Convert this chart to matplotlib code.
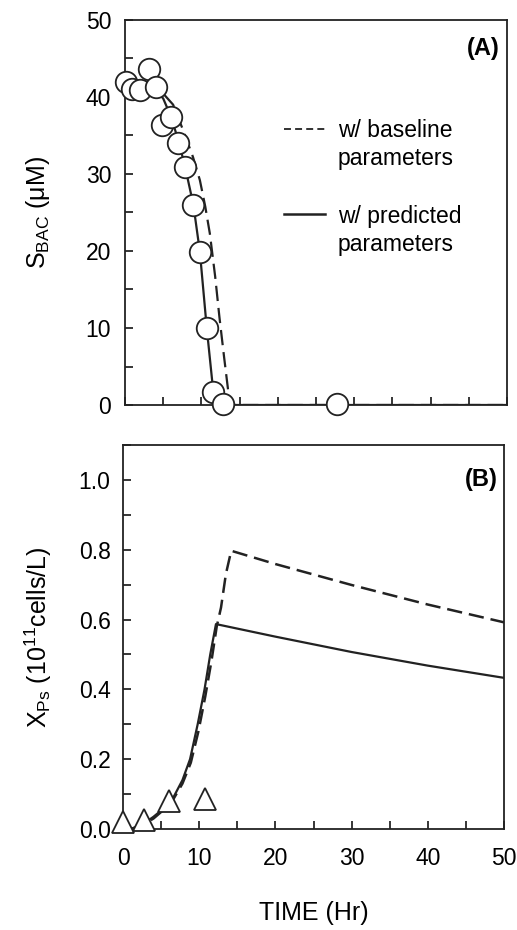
import matplotlib
matplotlib.use("Agg")
import matplotlib.pyplot as plt
from matplotlib.lines import Line2D
from matplotlib.ticker import MultipleLocator

plt.rcParams['font.family'] = ['Liberation Sans', 'DejaVu Sans']
plt.rcParams['mathtext.fontset'] = 'custom'
plt.rcParams['mathtext.rm'] = 'Liberation Sans'
plt.rcParams['mathtext.it'] = 'Liberation Sans:italic'
plt.rcParams['lines.scale_dashes'] = False

# ---------------- data ----------------
# Panel A: S_BAC (uM)
sbac_obs_t = [0.1, 0.9, 2.0, 3.1, 4.1, 4.9, 6.0, 7.0, 7.85, 8.95, 9.8, 10.7, 11.56, 12.8, 27.7]
sbac_obs = [41.9, 41.0, 40.9, 43.7, 41.3, 36.4, 37.4, 34.0, 30.9, 26.0, 19.9, 10.0, 1.7, 0.1, 0.1]

sbac_pred_t = [0, 2, 4, 5, 6, 7, 7.85, 8.95, 9.8, 10.7, 11.56, 12.0, 50]
sbac_pred = [42, 41.8, 41, 39.8, 37.5, 34.3, 31.0, 26.0, 19.9, 10.0, 1.7, 0.0, 0.0]

sbac_base_t = [0, 3, 4.5, 6.3, 7.6, 8.9, 9.8, 10.5, 11.1, 11.8, 12.35, 12.96, 13.5, 13.7, 50]
sbac_base = [42, 42, 41, 39, 35.7, 32.2, 29.2, 25.8, 22.3, 16.7, 11.5, 6.3, 1.9, 0.0, 0.0]

# Panel B: X_Ps (1e11 cells/L)
xps_obs_t = [0.0, 2.8, 6.0, 10.8]
xps_obs = [0.02, 0.025, 0.08, 0.085]

xps_pred_t = [1.0, 2.5, 4.0, 5.5, 6.6, 7.8, 8.8, 9.8, 10.7, 11.45, 12.2, 20, 30, 40, 50]
xps_pred = [0.0, 0.012, 0.035, 0.062, 0.09, 0.14, 0.2, 0.3, 0.4, 0.5, 0.587, 0.551, 0.507, 0.468, 0.433]

xps_base_t = [1.0, 2.5, 4.0, 5.5, 6.6, 7.8, 8.9, 9.9, 10.8, 11.6, 12.3, 12.86, 13.5, 14.2, 20, 30, 40, 50]
xps_base = [0.0, 0.01, 0.03, 0.058, 0.085, 0.13, 0.19, 0.28, 0.38, 0.48, 0.58, 0.634, 0.73, 0.797, 0.759, 0.699, 0.643, 0.592]

legend_labels = ["w/ baseline", "parameters", " ", "w/ predicted", "parameters"]

# ---------------- figure ----------------
fig = plt.figure(figsize=(5.17, 9.30), dpi=100)
axA = fig.add_axes([125/517, 1-405/930, (507-125)/517, (405-20)/930])
axB = fig.add_axes([123/517, 1-829/930, (504-123)/517, (829-445)/930])

lw = 1.6
dash = (11, 5)
fs_tick = 16.5

# Panel A
axA.plot(sbac_base_t, sbac_base, color='#222222', lw=lw, dashes=dash)
axA.plot(sbac_pred_t, sbac_pred, color='#222222', lw=lw)
axA.plot(sbac_obs_t, sbac_obs, 'o', ms=15.5, mfc='white', mec='#222222', mew=1.3,
         clip_on=False, zorder=5)
axA.set_xlim(0, 50)
axA.set_ylim(0, 50)
axA.xaxis.set_major_locator(MultipleLocator(5))
axA.yaxis.set_major_locator(MultipleLocator(10))
axA.yaxis.set_minor_locator(MultipleLocator(5))
axA.tick_params(axis='x', which='both', direction='in', length=6, width=1.1,
                labelbottom=False, top=False)
axA.tick_params(axis='y', which='both', direction='in', length=6, width=1.1,
                labelsize=fs_tick, pad=10, right=False)
axA.set_ylabel('S$_{\\rm BAC}$ (μM)', fontsize=18, labelpad=24)
axA.text(0.982, 0.927, '(A)', transform=axA.transAxes, ha='right', va='center',
         fontsize=17, fontweight='bold')

handles = [Line2D([], [], color='#222222', lw=1.3, dashes=(5, 3)),
           Line2D([], [], color='none'),
           Line2D([], [], color='none'),
           Line2D([], [], color='#222222', lw=1.8),
           Line2D([], [], color='none')]
leg = axA.legend(handles, legend_labels, loc='upper left',
                 bbox_to_anchor=(284/517, 1-119/930), bbox_transform=fig.transFigure,
                 frameon=False, fontsize=fs_tick, handlelength=1.8, handletextpad=0.55,
                 labelspacing=0.24, borderpad=0, borderaxespad=0)

# Panel B
axB.plot(xps_base_t, xps_base, color='#222222', lw=lw + 0.2, dashes=dash)
axB.plot(xps_pred_t, xps_pred, color='#222222', lw=lw)
axB.plot(xps_obs_t, xps_obs, '^', ms=16, mfc='white', mec='#222222', mew=1.3,
         clip_on=False, zorder=5)
axB.set_xlim(0, 50)
axB.set_ylim(0, 1.1)
axB.xaxis.set_major_locator(MultipleLocator(10))
axB.xaxis.set_minor_locator(MultipleLocator(5))
axB.yaxis.set_major_locator(MultipleLocator(0.2))
axB.yaxis.set_minor_locator(MultipleLocator(0.1))
axB.yaxis.set_major_formatter(matplotlib.ticker.FormatStrFormatter('%.1f'))
axB.tick_params(axis='x', which='both', direction='in', length=6, width=1.1,
                labelsize=fs_tick, pad=13, top=False)
axB.tick_params(axis='y', which='both', direction='in', length=6, width=1.1,
                labelsize=fs_tick, pad=9, right=False)
axB.set_ylabel('X$_{\\rm Ps}$ (10$^{11}$cells/L)', fontsize=18, labelpad=18)
axB.set_xlabel('TIME (Hr)', fontsize=18, labelpad=22)
axB.text(0.984, 0.911, '(B)', transform=axB.transAxes, ha='right', va='center',
         fontsize=17, fontweight='bold')

for ax in (axA, axB):
    for s in ax.spines.values():
        s.set_linewidth(1.3)
        s.set_color('#222222')

fig.savefig('out.png', dpi=100)
